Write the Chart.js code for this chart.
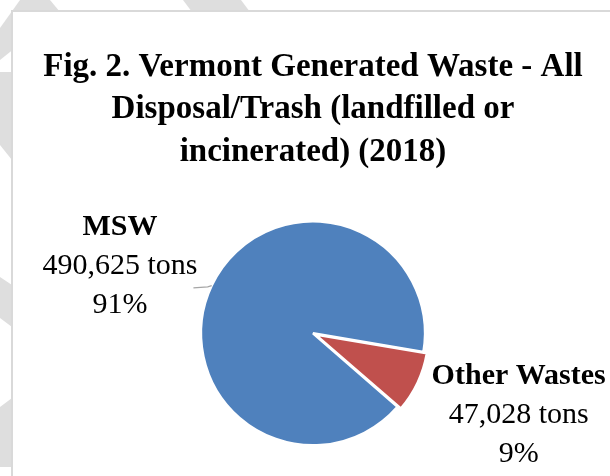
<!DOCTYPE html>
<html>
<head>
<meta charset="utf-8">
<script src="https://cdn.jsdelivr.net/npm/chart.js@4.4.0/dist/chart.umd.min.js"></script>
<style>
  html, body { margin: 0; padding: 0; background: #fff; }
  #wrap { position: relative; width: 610px; height: 476px; overflow: hidden; }
  #bg { position: absolute; left: 0; top: 0; }
  #box { position: absolute; left: 11px; top: 10px; width: 620px; height: 480px;
         background: #fff; border-left: 2px solid #d9d9d9; border-top: 2px solid #d9d9d9; }
  #chart { position: absolute; left: 0; top: 0; }
</style>
</head>
<body>
<div id="wrap">
  <svg id="bg" width="610" height="476">
    <g fill="#dedede">
      <polygon points="0,28 20,0 50,0 60,12 0,60"/>
      <polygon points="183,0 241,0 250,12 192,12"/>
      <polygon points="0,72 12,72 12,160 0,145"/>
      <polygon points="0,277 12,285 12,327 0,318"/>
      <polygon points="0,407 12,398 12,467 0,467"/>
    </g>
  </svg>
  <div id="box"></div>
  <canvas id="chart" width="610" height="476"></canvas>
</div>
<script>
// datos del grafico
const categorias = ["MSW", "Other Wastes"];
const toneladas = [490625, 47028];
const porcentajes = ["91%", "9%"];
const colores = ["#4f81bd", "#c0504d"];
const titulo = ["Fig. 2. Vermont Generated Waste - All", "Disposal/Trash (landfilled or", "incinerated) (2018)"];

const fuente = "'Liberation Serif', 'Times New Roman', serif";

// etiquetas fuera de cada porcion
const etiquetasPlugin = {
  id: "etiquetas",
  afterDatasetsDraw(chart) {
    const ctx = chart.ctx;
    const arcs = chart.getDatasetMeta(0).data;
    ctx.save();
    ctx.fillStyle = "#000";
    ctx.textBaseline = "middle";
    arcs.forEach((arc, i) => {
      const p = arc.getProps(["x", "y", "startAngle", "endAngle", "outerRadius"], true);
      const mid = (p.startAngle + p.endAngle) / 2;
      const off = arc.options.offset || 0;
      const cx = p.x + Math.cos(mid) * off;
      const cy = p.y + Math.sin(mid) * off;
      const r = p.outerRadius + 18;
      const ax = cx + Math.cos(mid) * r;
      const ay = cy + Math.sin(mid) * r;
      const lineas = [
        { t: categorias[i], f: "bold 30px " + fuente },
        { t: toneladas[i].toLocaleString("en-US") + " tons", f: "30px " + fuente },
        { t: porcentajes[i], f: "30px " + fuente }
      ];
      let ancho = 0;
      lineas.forEach(l => { ctx.font = l.f; ancho = Math.max(ancho, ctx.measureText(l.t).width); });
      const izquierda = Math.cos(mid) < 0;
      let bx, by;
      if (izquierda) {
        bx = ax - ancho / 2 + 2;
        by = ay - 12;
        // linea guia
        const ex = p.x + Math.cos(mid) * p.outerRadius;
        const ey = p.y + Math.sin(mid) * p.outerRadius;
        ctx.strokeStyle = "#a6a6a6";
        ctx.lineWidth = 1.2;
        ctx.beginPath();
        ctx.moveTo(ax - 2, ay + 10);
        ctx.lineTo(ex - 4, ay + 9);
        ctx.lineTo(ex, ey);
        ctx.stroke();
      } else {
        bx = ax + ancho / 2 - 8;
        by = ay + 22;
      }
      ctx.textAlign = "center";
      lineas.forEach((l, k) => {
        ctx.font = l.f;
        ctx.fillText(l.t, bx, by + (k - 1) * 39);
      });
    });
    ctx.restore();
  }
};

new Chart(document.getElementById("chart"), {
  type: "pie",
  data: {
    labels: categorias,
    datasets: [{
      data: toneladas,
      backgroundColor: colores,
      borderColor: "#fff",
      borderWidth: 2.5,
      offset: [0, 10]
    }]
  },
  options: {
    responsive: false,
    animation: false,
    rotation: 131,
    radius: 112,
    layout: { padding: { left: 16, right: 0, top: 0, bottom: 0 } },
    plugins: {
      legend: { display: false },
      tooltip: { enabled: false },
      title: {
        display: true,
        text: titulo,
        color: "#000",
        font: { family: fuente, size: 33, weight: "bold", lineHeight: 1.29 },
        padding: { top: 46, bottom: 17 }
      }
    }
  },
  plugins: [etiquetasPlugin]
});
</script>
</body>
</html>
